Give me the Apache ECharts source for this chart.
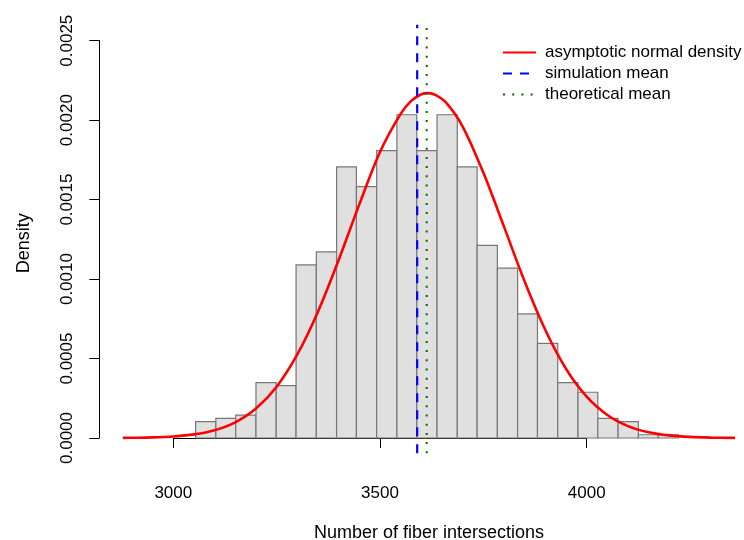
<!DOCTYPE html>
<html>
<head>
<meta charset="utf-8">
<script src="https://cdn.jsdelivr.net/npm/echarts@6.0.0/dist/echarts.min.js"></script>
<style>
  html, body { margin: 0; padding: 0; background: #fff; }
  #main { width: 744px; height: 540px; }
</style>
</head>
<body>
<div id="main"></div>
<script>
// histogram breaks (24 bins) and densities
var breaks = [3054, 3103, 3151, 3200, 3249, 3297, 3346, 3395, 3443, 3492, 3541, 3589,
              3638, 3687, 3735, 3784, 3833, 3881, 3930, 3979, 4027, 4076, 4125, 4173, 4222];
var densities = [0.000103, 0.000123, 0.000144, 0.000349, 0.000329, 0.001089, 0.001171, 0.001706,
                 0.001582, 0.001808, 0.002034, 0.001808, 0.002034, 0.001706, 0.001212, 0.001069,
                 0.000781, 0.000596, 0.000349, 0.000288, 0.000123, 0.000103, 0.0000206, 0.0000206];

// asymptotic normal density curve
var curveX = [2878, 2900, 2950, 3000, 3050, 3100, 3150, 3200, 3250, 3300, 3350, 3400, 3450, 3500,
              3550, 3575, 3600, 3617, 3635, 3660, 3700, 3750, 3800, 3850, 3900, 3950, 4000, 4050,
              4100, 4150, 4200, 4250, 4300, 4359];
var curveY = [0.0000009, 0.0000015, 0.0000039, 0.0000097, 0.0000226, 0.000049, 0.0000985, 0.000185,
              0.000323, 0.000526, 0.000795, 0.00112, 0.00147, 0.0018, 0.00204, 0.00212, 0.002163,
              0.00217, 0.002157, 0.00211, 0.00196, 0.00167, 0.00133, 0.000985, 0.00068, 0.000436,
              0.00026, 0.000145, 0.000075, 0.0000362, 0.0000163, 0.0000068, 0.0000026, 0.0000008];

var simulationMean = 3590;
var theoreticalMean = 3613;

var xTicks = [3000, 3500, 4000];
var yTicks = ['0.0000', '0.0005', '0.0010', '0.0015', '0.0020', '0.0025'];

var font = 'Liberation Sans, Arial, Helvetica, sans-serif';

var barData = [];
for (var i = 0; i < densities.length; i++) {
    barData.push([breaks[i], breaks[i + 1], densities[i]]);
}
var curveData = curveX.map(function (x, k) { return [x, curveY[k]]; });

// vertical lines run over the whole plot region, a bit past the axes
var lineLow = -0.0000963;
var lineHigh = 0.0026;

var chart = echarts.init(document.getElementById('main'), null, { renderer: 'canvas' });

chart.setOption({
    backgroundColor: '#ffffff',
    animation: false,
    textStyle: { fontFamily: font },
    title: {
        text: 'Number of fiber intersections',
        left: 314,
        top: 524,
        padding: 0,
        textStyle: { fontSize: 18, fontWeight: 'normal', color: '#000', fontFamily: font }
    },
    legend: {
        data: ['asymptotic normal density', 'simulation mean', 'theoretical mean'],
        orient: 'vertical',
        left: 497,
        top: 39,
        itemWidth: 33,
        itemHeight: 17,
        itemGap: 4,
        itemStyle: { opacity: 0 },
        textStyle: { fontSize: 17, color: '#000', fontFamily: font, padding: [0, 0, 0, 4] }
    },
    grid: [{
        // plot region, wide enough to hold the whole curve
        left: 111.3,
        right: 4.4,
        top: 40.7,
        bottom: 102
    }, {
        // region spanned by the drawn axes
        left: 173.3,
        right: 157.3,
        top: 40.7,
        bottom: 102
    }],
    xAxis: [{
        type: 'value',
        gridIndex: 0,
        min: 2850,
        max: 4370,
        show: false
    }, {
        type: 'value',
        gridIndex: 1,
        min: xTicks[0],
        max: xTicks[xTicks.length - 1],
        interval: 500,
        offset: 15.3,
        splitLine: { show: false },
        axisLine: { lineStyle: { color: '#000', width: 1 } },
        axisTick: { length: 10, lineStyle: { color: '#000' } },
        axisLabel: {
            margin: 32, fontSize: 17, color: '#000', fontFamily: font,
            formatter: function (v) { return String(v); }
        }
    }],
    yAxis: [{
        type: 'value',
        gridIndex: 0,
        min: 0,
        max: 0.0025,
        show: false
    }, {
        type: 'value',
        gridIndex: 1,
        min: 0,
        max: 0.0025,
        interval: 0.0005,
        offset: 74,
        name: 'Density',
        nameLocation: 'middle',
        nameGap: 66,
        nameTextStyle: { fontSize: 18, color: '#000', fontFamily: font, padding: [0, 8, 0, 0] },
        splitLine: { show: false },
        axisLine: { show: true, lineStyle: { color: '#000', width: 1 } },
        axisTick: { show: true, length: 10, lineStyle: { color: '#000' } },
        axisLabel: {
            rotate: 90,
            margin: 23,
            fontSize: 17,
            color: '#000',
            fontFamily: font,
            formatter: function (v) {
                return yTicks[Math.round(v / 0.0005)];
            }
        }
    }],
    series: [{
        name: 'hist',
        type: 'custom',
        clip: false,
        encode: { x: [0, 1], y: 2 },
        data: barData,
        renderItem: function (params, api) {
            var topLeft = api.coord([api.value(0), api.value(2)]);
            var bottomRight = api.coord([api.value(1), 0]);
            return {
                type: 'rect',
                shape: {
                    x: topLeft[0],
                    y: topLeft[1],
                    width: bottomRight[0] - topLeft[0],
                    height: bottomRight[1] - topLeft[1]
                },
                style: { fill: '#e0e0e0', stroke: '#777777', lineWidth: 1.2 }
            };
        }
    }, {
        name: 'asymptotic normal density',
        type: 'line',
        clip: false,
        smooth: 0.3,
        symbol: 'none',
        data: curveData,
        lineStyle: { color: '#ff0000', width: 2.6 },
        itemStyle: { color: '#ff0000' }
    }, {
        name: 'simulation mean',
        type: 'line',
        clip: false,
        symbol: 'none',
        data: [[simulationMean, lineLow], [simulationMean, lineHigh]],
        lineStyle: { color: '#0000ff', width: 2.2, type: [9, 8] },
        itemStyle: { color: '#0000ff' }
    }, {
        name: 'theoretical mean',
        type: 'line',
        clip: false,
        symbol: 'none',
        data: [[theoreticalMean, lineLow], [theoreticalMean, lineHigh]],
        lineStyle: { color: '#006400', width: 2, type: [2, 7.2] },
        itemStyle: { color: '#006400' }
    }]
});
</script>
</body>
</html>
